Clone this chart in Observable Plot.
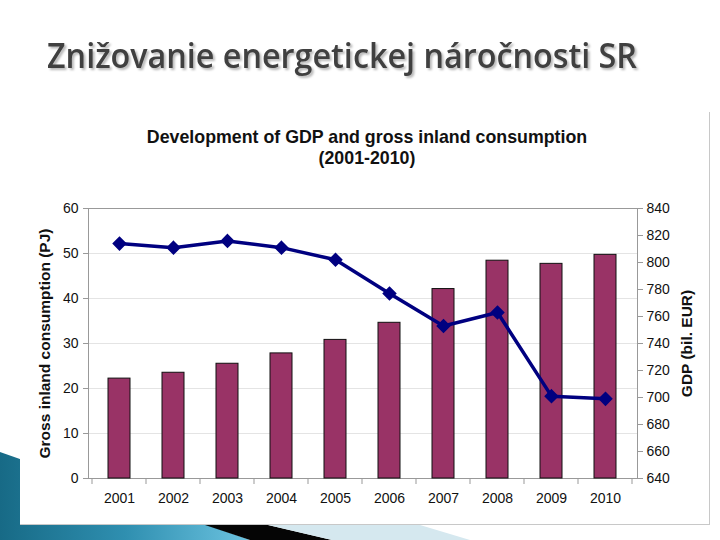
<!DOCTYPE html>
<html>
<head>
<meta charset="utf-8">
<script src="https://cdn.jsdelivr.net/npm/d3@7"></script>
<script src="https://cdn.jsdelivr.net/npm/@observablehq/plot@0.6"></script>
<style>
  html, body { margin: 0; padding: 0; background: #fff; }
  #page { position: relative; width: 720px; height: 540px; overflow: hidden; background: #fff; font-family: "Liberation Sans", Arial, sans-serif; }
  #deco { position: absolute; left: 0; top: 0; }
  #box { position: absolute; left: 20px; top: 112px; width: 689px; height: 412px; background: #fff; border-right: 1px solid #c8c8c8; border-bottom: 1px solid #c8c8c8; }
  #head { position: absolute; left: 0; top: 0; }
  #chart { position: absolute; left: 0; top: 180px; }
  #chart g[aria-label="y-axis label"] text { font-weight: bold; font-size: 15.5px; }
</style>
</head>
<body>
<div id="page">
  <svg id="deco" width="720" height="540">
    <defs>
      <linearGradient id="teal" x1="0" y1="0" x2="1" y2="0">
        <stop offset="0" stop-color="#176a86"/>
        <stop offset="0.5" stop-color="#2f8fb0"/>
        <stop offset="1" stop-color="#6cc3e0"/>
      </linearGradient>
    </defs>
    <polygon points="0,452 250,540 0,540" fill="url(#teal)"/>
    <polygon points="205,525 268,525 332,540 250,540" fill="#050505"/>
    <polygon points="268,525 420,525 470,540 332,540" fill="#d5e8ef"/>
  </svg>
  <div id="box"></div>
  <svg id="head" width="720" height="180">
    <text x="47" y="68" textLength="590" lengthAdjust="spacingAndGlyphs"
      style="font-family:'Open Sans',sans-serif;font-weight:600;font-size:34px;fill:#404040;filter:drop-shadow(2px 2px 1px rgba(0,0,0,0.28))">Znižovanie energetickej náročnosti SR</text>
    <text x="367" y="143" text-anchor="middle" style="font-family:'Liberation Sans',Arial,sans-serif;font-weight:bold;font-size:17.8px;fill:#111">Development of GDP and gross inland consumption</text>
    <text x="367" y="164" text-anchor="middle" style="font-family:'Liberation Sans',Arial,sans-serif;font-weight:bold;font-size:17.8px;fill:#111">(2001-2010)</text>
  </svg>
  <div id="chart"></div>
</div>
<script>
const years = ["2001","2002","2003","2004","2005","2006","2007","2008","2009","2010"];
const consumption = [22.2, 23.5, 25.5, 27.8, 30.8, 34.6, 42.1, 48.4, 47.7, 49.7];
const gdp = [814, 811, 816, 811, 802, 777, 753, 763, 701, 699];
const leftTicks = [0, 10, 20, 30, 40, 50, 60];
const rightTicks = [640, 660, 680, 700, 720, 740, 760, 780, 800, 820, 840];

const leftDomain = [0, 60];
const rightDomain = [640, 840];
const toLeft = v => leftDomain[0] + (v - rightDomain[0]) / (rightDomain[1] - rightDomain[0]) * (leftDomain[1] - leftDomain[0]);
const fromLeft = v => rightDomain[0] + (v - leftDomain[0]) / (leftDomain[1] - leftDomain[0]) * (rightDomain[1] - rightDomain[0]);

const data = years.map((y, i) => ({year: y, consumption: consumption[i], gdp: gdp[i]}));

function boundaryTicks(index, scales, values, dimensions) {
  const x = scales.x;
  const bw = x.bandwidth ? x.bandwidth() : 0;
  const step = x(years[1]) - x(years[0]);
  const gap = step - bw;
  const y0 = dimensions.height - dimensions.marginBottom;
  const g = d3.create("svg:g").attr("stroke", "#999").attr("stroke-width", 1);
  const xs = years.map(y => x(y) - gap / 2);
  xs.push(x(years[years.length - 1]) + bw + gap / 2);
  for (const xb of xs) {
    g.append("line").attr("x1", xb).attr("x2", xb).attr("y1", y0).attr("y2", y0 + 6);
  }
  return g.node();
}

const chart = Plot.plot({
  width: 720,
  height: 340,
  marginTop: 28,
  marginBottom: 42,
  marginLeft: 88,
  marginRight: 83,
  style: {background: "transparent", fontFamily: "'Liberation Sans', Arial, sans-serif", fontSize: "14px", color: "#111"},
  x: {domain: years, paddingInner: 0.59, paddingOuter: 0.295},
  y: {domain: leftDomain},
  marks: [
    Plot.gridY(leftTicks.slice(1, -1), {stroke: "#e4e4e4", strokeOpacity: 1}),
    Plot.frame({stroke: "#999"}),
    Plot.barY(data, {x: "year", y: "consumption", fill: "#993366", stroke: "#111", strokeWidth: 1}),
    Plot.line(data, {x: "year", y: d => toLeft(d.gdp), stroke: "#000080", strokeWidth: 3.5}),
    Plot.dot(data, {x: "year", y: d => toLeft(d.gdp), symbol: "diamond2", r: 5.6, fill: "#000080", stroke: "#000080"}),
    Plot.axisX({tickSize: 0, tickPadding: 15, fontSize: 14, label: null}),
    boundaryTicks,
    Plot.axisY(leftTicks, {anchor: "left", tickSize: 5, tickPadding: 5, fontSize: 14, stroke: "#999",
      label: "Gross inland consumption (PJ)", labelAnchor: "center", labelOffset: 50, labelArrow: "none"}),
    Plot.axisY(rightTicks.map(toLeft), {anchor: "right", tickSize: 5, tickPadding: 4, fontSize: 14, stroke: "#999",
      tickFormat: d => String(Math.round(fromLeft(d))),
      label: "GDP (bil. EUR)", labelAnchor: "center", labelOffset: 54, labelArrow: "none"})
  ]
});
document.getElementById("chart").appendChild(chart);
</script>
</body>
</html>
